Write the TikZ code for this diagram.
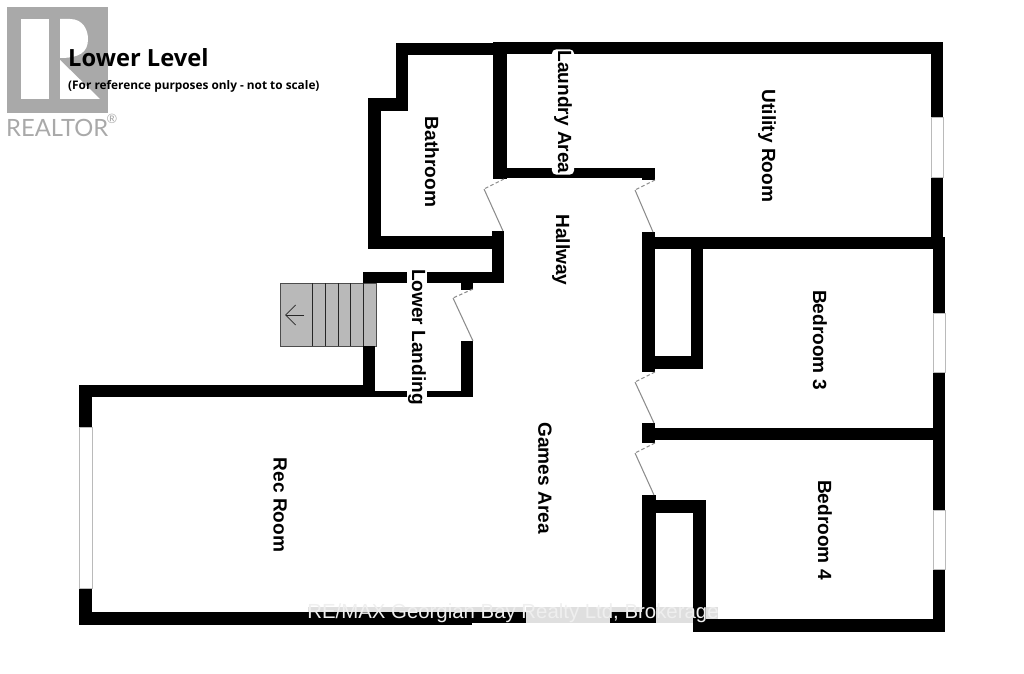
\documentclass[tikz,border=0pt]{standalone}
\usepackage{xcolor}
\usepackage{fontspec}
\setmainfont{Liberation Sans}
\newfontfamily\titlefont{Open Sans}
\newfontfamily\logofont{Lato}
\usepackage{tikz}
\usetikzlibrary{arrows.meta, positioning}

\definecolor{logogray}{HTML}{A9A9A9}
\definecolor{stairgray}{HTML}{B9B9B9}
\definecolor{swinggray}{HTML}{8C8C8C}
\definecolor{markgray}{HTML}{EFEFEF}
\definecolor{bandgray}{HTML}{DFDFDF}

\tikzset{
	wall/.style={fill=black, draw=none},
	window/.style={fill=white, draw=swinggray!60, line width=0.5pt},
	roomlabel/.style={rotate=-90, font=\fontsize{16.3}{16}\selectfont\bfseries, inner sep=1pt},
	swing/.style={draw=swinggray, line width=0.9pt},
	swingdash/.style={swing, densely dashed}
}

\begin{document}
\begin{tikzpicture}[x=0.03cm, y=-0.03cm]
	\useasboundingbox (0,0) rectangle (1024,674);

	% logo
	\fill[logogray] (7,7) rectangle (108,113);
	\fill[white] (21,19) rectangle (49,99);
	\fill[white] (60,19) -- (70,19) .. controls (83,19) and (88,30) .. (88,39) .. controls (88,52) and (80,58) .. (60,58) -- cycle;
	\fill[white] (60,60) -- (100,99) -- (60,99) -- cycle;
	\node[text=logogray, font=\logofont\fontsize{20.3}{20}\selectfont, inner sep=0pt, anchor=west] (realtor) at (6,128) {REALTOR};
	\node[text=logogray, font=\logofont\fontsize{11}{11}\selectfont, inner sep=0pt] (regmark) at (112,119) {®};

	% stairs
	\draw[fill=stairgray, draw=black!70, line width=0.6pt] (280,283) rectangle (376,346);
	\foreach \sx in {312,325,338,350,363}
		\draw[black!85, line width=0.8pt] (\sx,283) -- (\sx,346);
	\coordinate (arrowstart) at (304,315);
	\coordinate (arrowtip) at (285,315);
	\draw[-{Straight Barb[length=3mm, width=6mm]}, black!85, line width=0.7pt] (arrowstart) -- (arrowtip);

	% walls
	\fill[wall] (396,43) rectangle (494,55);
	\fill[wall] (396,43) rectangle (408,111);
	\fill[wall] (368,98) rectangle (408,111);
	\fill[wall] (368,98) rectangle (381,249);
	\fill[wall] (368,236) rectangle (504,249);
	\fill[wall] (494,42) rectangle (943,54);
	\fill[wall] (493,42) rectangle (507,179);
	\fill[wall] (493,168) rectangle (655,178);
	\fill[wall] (642,169) rectangle (655,180);
	\fill[wall] (492,231) rectangle (504,283);
	\fill[wall] (363,272) rectangle (504,283);
	\fill[wall] (461,283) rectangle (473,290);
	\fill[wall] (461,341) rectangle (473,397);
	\fill[wall] (363,391) rectangle (473,397);
	\fill[wall] (363,346) rectangle (375,397);
	\fill[wall] (79,385) rectangle (375,397);
	\fill[wall] (79,385) rectangle (92,625);
	\fill[wall] (79,612) rectangle (472,625);
	\fill[wall] (472,612) rectangle (655,623);
	\fill[wall] (642,232) rectangle (655,372);
	\fill[wall] (642,237) rectangle (945,249);
	\fill[wall] (691,249) rectangle (703,369);
	\fill[wall] (642,356) rectangle (703,369);
	\fill[wall] (642,423) rectangle (655,443);
	\fill[wall] (642,428) rectangle (945,440);
	\fill[wall] (642,495) rectangle (656,623);
	\fill[wall] (642,500) rectangle (706,513);
	\fill[wall] (693,500) rectangle (706,632);
	\fill[wall] (693,619) rectangle (945,632);
	\fill[wall] (931,42) rectangle (943,237);
	\fill[wall] (933,237) rectangle (945,632);

	% windows
	\draw[window] (931,117) rectangle (943,177);
	\draw[window] (933,313) rectangle (945,372);
	\draw[window] (933,510) rectangle (945,569);
	\draw[window] (79,427) rectangle (92,588);

	% door swings
	\draw[swingdash] (504,179) -- (484,189);
	\draw[swing] (484,189) -- (503,231);
	\draw[swingdash] (655,180) -- (635,190);
	\draw[swing] (635,190) -- (653,232);
	\draw[swingdash] (473,289) -- (453,298);
	\draw[swing] (453,298) -- (473,341);
	\draw[swingdash] (655,372) -- (635,382);
	\draw[swing] (635,382) -- (654,423);
	\draw[swingdash] (655,443) -- (635,453);
	\draw[swing] (635,453) -- (654,495);

	% room names
	\node[roomlabel] (bathroom) at (432,162) {Bathroom};
	\node[roomlabel, fill=white, rounded corners=4pt, inner ysep=2pt] (laundry) at (563,112) {Laundry Area};
	\node[roomlabel] (utility) at (767,146) {Utility Room};
	\node[roomlabel] (hallway) at (561,250) {Hallway};
	\node[roomlabel, fill=white] (landing) at (417,337) {Lower Landing};
	\node[roomlabel] (bedthree) at (820,340) {Bedroom 3};
	\node[roomlabel] (bedfour) at (825,530) {Bedroom 4};
	\node[roomlabel] (games) at (545,478) {Games Area};
	\node[roomlabel] (recroom) at (280,505) {Rec Room};

	% title
	\node[font=\titlefont\bfseries\fontsize{20.2}{20}\selectfont, inner sep=0pt, anchor=west] (title) at (68,58) {Lower Level};
	\node[font=\titlefont\bfseries\fontsize{10.1}{10}\selectfont, inner sep=0pt, below=24pt of title.west, anchor=west] (subtitle) {(For reference purposes only - not to scale)};

	% watermark
	\fill[bandgray] (308,607) rectangle (523,612);
	\fill[bandgray] (526,607) rectangle (610,623);
	\fill[bandgray] (610,607) rectangle (642,612);
	\fill[bandgray] (656,607) rectangle (693,623);
	\fill[bandgray] (706,607) rectangle (718,619);
	\node[text=markgray, font=\fontsize{17.4}{17}\selectfont, inner sep=0pt] (mark) at (513,613) {RE/MAX Georgian Bay Realty Ltd, Brokerage};
\end{tikzpicture}
\end{document}
